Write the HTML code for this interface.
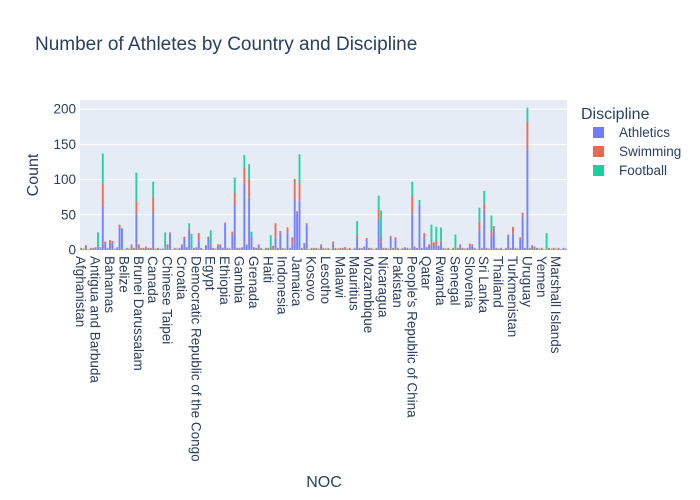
<!DOCTYPE html>
<html><head><meta charset="utf-8">
<style>
body{margin:0;background:#fff;}
svg{display:block;font-family:"Liberation Sans",Arial,sans-serif;}
</style></head>
<body>
<svg id="chart" width="700" height="500" xmlns="http://www.w3.org/2000/svg">
<rect x="0" y="0" width="700" height="500" fill="#fff"/>
<text x="35" y="50" font-size="19" fill="#2a3f5f">Number of Athletes by Country and Discipline</text>
<rect x="80" y="100" width="487" height="150" fill="#e5ecf6"/>
<g id="grid"></g>
<g id="bars"></g>
<g id="yticks"></g>
<g id="xticks"></g>
<text x="0" y="0" transform="translate(38,175) rotate(-90)" text-anchor="middle" font-size="16" fill="#2a3f5f">Count</text>
<text x="324" y="487" text-anchor="middle" font-size="16" fill="#2a3f5f">NOC</text>
<g>
<text x="581" y="119" font-size="16" fill="#2a3f5f">Discipline</text>
<g><rect x="593" y="127" width="11" height="11" fill="#636efa" opacity="0.9"/><text x="619" y="137" font-size="13.5" fill="#2a3f5f">Athletics</text></g>
<g><rect x="593" y="146" width="11" height="11" fill="#EF553B" opacity="0.9"/><text x="619" y="156" font-size="13.5" fill="#2a3f5f">Swimming</text></g>
<g><rect x="593" y="165" width="11" height="11" fill="#00cc96" opacity="0.9"/><text x="619" y="175" font-size="13.5" fill="#2a3f5f">Football</text></g>
</g>
</svg>
<script>
const categories = ["Afghanistan","Albania","Algeria","American Samoa","Andorra","Angola",
"Antigua and Barbuda","Argentina","Armenia","Aruba","Australia","Austria",
"Bahamas","Bahrain","Bangladesh","Barbados","Belarus","Belgium",
"Belize","Benin","Bermuda","Bhutan","Bolivia","Botswana",
"Brunei Darussalam","Bulgaria","Burkina Faso","Burundi","Cambodia","Cameroon",
"Canada","Cape Verde","Cayman Islands","Central African Republic","Chad","Chile",
"Chinese Taipei","Colombia","Comoros","Congo","Cook Islands","Costa Rica",
"Croatia","Cuba","Cyprus","Czech Republic","Côte d'Ivoire","DPR Korea",
"Democratic Republic of the Congo","Denmark","Djibouti","Dominica","Dominican Republic","Ecuador",
"Egypt","El Salvador","Equatorial Guinea","Eritrea","Estonia","Eswatini",
"Ethiopia","Federated States of Micronesia","Fiji","Finland","France","Gabon",
"Gambia","Georgia","Germany","Ghana","Great Britain","Greece",
"Grenada","Guam","Guatemala","Guinea","Guinea-Bissau","Guyana",
"Haiti","Honduras","Hong Kong","Hungary","Iceland","India",
"Indonesia","Iran","Iraq","Ireland","Israel","Italy",
"Jamaica","Japan","Jordan","Kazakhstan","Kenya","Kiribati",
"Kosovo","Kuwait","Kyrgyzstan","Lao PDR","Latvia","Lebanon",
"Lesotho","Liberia","Libya","Liechtenstein","Lithuania","Luxembourg",
"Malawi","Malaysia","Maldives","Mali","Malta","Mauritania",
"Mauritius","Mexico","Moldova","Monaco","Mongolia","Montenegro",
"Mozambique","Myanmar","Namibia","Nauru","Nepal","Netherlands",
"Nicaragua","Niger","Nigeria","North Macedonia","Norway","Oman",
"Pakistan","Palau","Palestine","Panama","Papua New Guinea","Paraguay",
"People's Republic of China","Peru","Philippines","Poland","Portugal","Puerto Rico",
"Qatar","Refugee Olympic Team","Republic of Korea","Republic of Moldova","Romania","Russian Olympic Committee",
"Rwanda","Saint Kitts and Nevis","Saint Lucia","Samoa","San Marino","Sao Tome and Principe",
"Senegal","Serbia","Seychelles","Sierra Leone","Singapore","Slovakia",
"Slovenia","Solomon Islands","Somalia","South Africa","South Sudan","Spain",
"Sri Lanka","St Vincent and the Grenadines","Sudan","Suriname","Sweden","Switzerland",
"Thailand","Timor-Leste","Togo","Tonga","Trinidad and Tobago","Tunisia",
"Turkmenistan","Turkey","Tuvalu","Uganda","Ukraine","United Arab Emirates",
"Uruguay","United States","Uzbekistan","Vanuatu","Venezuela","Vietnam",
"Yemen","Virgin Islands, US","Virgin Islands, British","Zambia","Zimbabwe","United Republic of Tanzania",
"Marshall Islands","Madagascar","Saudi Arabia","Morocco","New Zealand"];
const athletics = [2,1,6,1,2,2,3,3,2,63, 8,2,10,10,1,3,31,31,1,2, 1,6,2,52,1,2,2,3,2,2,
54,1,2,1,2,2,4,23,1,2, 1,2,6,17,3,28,0,2,3,14, 2,1,6,17,3,2,1,6,6,2,
37,2,1,21,64,2,2,3,94,6, 74,19,3,2,7,2,1,2,2,2, 2,18,2,25,2,1,25,2,8,72,
52,70,2,8,36,1,2,2,2,1, 6,2,1,2,1,8,2,1,2,2, 2,1,2,1,2,17,2,2,3,14,
2,2,1,2,43,11,2,2,1,18, 2,14,2,1,2,3,2,1,52,4, 2,64,2,18,3,6,8,5,6,5,
10,2,1,2,1,2,1,2,5,2, 1,2,7,6,2,1,28,2,57,2, 1,19,30,2,1,2,1,2,21,2,
23,2,1,16,47,2,143,2,5,3, 2,1,2,1,1,2,1,2,1,2, 1,2,1];
const swimming = [1,1,1,0,1,1,1,2,2,31, 4,1,4,3,1,1,5,0,0,1, 1,2,1,17,7,1,1,2,1,1,
21,1,1,1,0,0,4,2,0,1, 1,1,2,2,1,2,1,1,1,10, 1,0,1,2,5,1,1,2,2,1,
2,1,1,5,17,1,1,1,23,2, 27,0,1,1,1,1,0,1,1,0, 4,20,1,2,1,1,7,1,10,29,
3,25,1,2,2,0,1,1,1,1, 2,1,1,1,0,4,1,1,1,1, 2,1,1,0,1,3,1,1,2,3,
1,1,0,1,15,6,1,1,1,2, 1,4,1,0,1,1,1,1,24,1, 1,0,1,6,1,2,3,6,6,1,
2,1,1,1,0,1,1,1,3,1, 1,1,2,2,1,0,12,1,8,1, 1,9,4,1,1,1,0,1,1,1,
10,1,1,2,6,1,39,1,2,2, 1,1,1,0,0,1,1,1,1,1, 0,1,1];
const football = [0,0,0,0,0,0,0,20,0,43, 0,0,0,0,0,0,0,0,0,0, 0,0,0,41,0,0,0,0,0,0,
22,0,0,0,0,23,0,0,0,0, 0,0,0,0,0,8,22,0,0,0, 0,0,0,0,20,0,0,0,0,0,
0,0,0,0,22,0,0,0,18,0, 21,7,0,0,0,0,0,0,0,19, 0,0,0,0,0,0,0,0,0,0,
0,41,0,0,0,0,0,0,0,0, 0,0,0,0,0,0,0,0,0,0, 0,0,0,0,0,21,0,0,0,0,
0,0,0,0,19,39,0,0,0,0, 0,0,0,0,0,0,0,0,21,0, 0,7,0,0,0,0,25,0,21,0,
20,0,0,0,0,0,20,0,0,0, 0,0,0,0,0,0,20,0,19,0, 0,21,0,0,0,0,0,0,0,0,
0,0,0,0,0,0,20,0,0,0, 0,0,0,0,23,0,0,0,0,0, 0,0,0];
const yTicks = [0,50,100,150,200];
const tickEvery = 6;

const NS = "http://www.w3.org/2000/svg";
const X0 = 80, X1 = 567, Y0 = 250, Y1 = 100, YMAX = 213;
const bw = (X1 - X0) / categories.length;
function xScale(i){ return X0 + i * bw; }
function yScale(v){ return Y0 - v / YMAX * (Y0 - Y1); }
function mk(tag, attrs, parent){ const e = document.createElementNS(NS, tag); for (const k in attrs) e.setAttribute(k, attrs[k]); parent.appendChild(e); return e; }

const grid = document.getElementById('grid');
const yt = document.getElementById('yticks');
yTicks.forEach(t => {
  const y = yScale(t);
  const l = mk('line', {x1: X0, x2: X1, y1: y, y2: y, stroke: '#fff', 'stroke-width': t === 0 ? 2 : 1}, grid);
  
  
  const tx = mk('text', {x: 76, y: y + 4.5, 'text-anchor': 'end', 'font-size': 13.5, fill: '#2a3f5f'}, yt);
  tx.textContent = t;
  
  
});

const bars = document.getElementById('bars');
const series = [[athletics, '#636efa', 'athletics'], [swimming, '#EF553B', 'swimming'], [football, '#00cc96', 'football']];
categories.forEach((c, i) => {
  let base = 0;
  series.forEach(([arr, col, nm]) => {
    const v = arr[i] || 0;
    if (v > 0) {
      const y0 = yScale(base), y1 = yScale(base + v);
      const r = mk('rect', {x: xScale(i) + 0.25, y: y1, width: bw - 0.5, height: y0 - y1, fill: col, 'fill-opacity': 0.85}, bars);
      
      
    }
    base += v;
  });
});

const xt = document.getElementById('xticks');
categories.forEach((c, i) => {
  if (i % tickEvery !== 0) return;
  const x = xScale(i) + bw / 2;
  const t = mk('text', {x: 0, y: 0, transform: 'translate(' + (x - 5) + ',256) rotate(90)', 'font-size': 13.5, fill: '#2a3f5f'}, xt);
  t.textContent = c;
  
  
});
</script>
</body></html>
